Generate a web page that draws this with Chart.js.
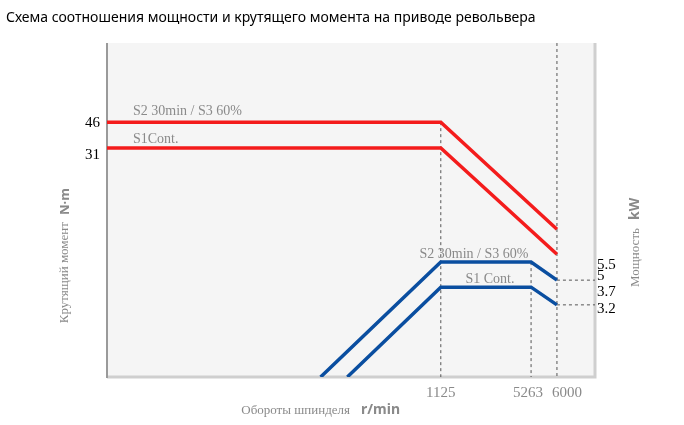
<!DOCTYPE html>
<html>
<head>
<meta charset="utf-8">
<script src="https://cdn.jsdelivr.net/npm/chart.js@4.4.0/dist/chart.umd.min.js"></script>
<style>
  html, body { margin: 0; padding: 0; background: #fff; }
  #wrap { width: 684px; height: 425px; position: relative; }
</style>
</head>
<body>
<div id="wrap"><canvas id="chart"></canvas></div>
<script>
// Data (schematic: rpm on x, torque N·m on left, power kW on right)
const TITLE = 'Схема соотношения мощности и крутящего момента на приводе револьвера';
const speedTicks = [1125, 5263, 6000];
const torqueTicks = [46, 31];
const powerTicks = [5.5, 5, 3.7, 3.2];

const torqueS2 = [{x: 0, y: 46}, {x: 1125, y: 46}, {x: 6000, y: 20}];
const torqueS1 = [{x: 0, y: 31}, {x: 1125, y: 31}, {x: 6000, y: 16.6}];
const powerS2 = [{x: 720, y: 0}, {x: 1125, y: 5.5}, {x: 5263, y: 5.5}, {x: 6000, y: 5}];
const powerS1 = [{x: 810, y: 0}, {x: 1125, y: 3.7}, {x: 5263, y: 3.7}, {x: 6000, y: 3.2}];

const RED = '#f41c1c';
const BLUE = '#0a4ea0';
const GREY_TEXT = '#8a8a8a';

/**
 * Piecewise linear scale - the reference drawing is not to scale
 */
class PiecewiseScale extends Chart.LinearScale {
    frac(v) {
        const bp = this.options.breaks;
        for (let i = 1; i < bp.length; i++) {
            if (v <= bp[i][0]) {
                const [v0, f0] = bp[i - 1], [v1, f1] = bp[i];
                return f0 + (v - v0) / (v1 - v0) * (f1 - f0);
            }
        }
        return 1;
    }
    getPixelForValue(v) {
        const f = this.frac(v);
        return this.isHorizontal()
            ? this.left + f * this.width
            : this.bottom - f * this.height;
    }
    getValueForPixel(p) {
        const f = this.isHorizontal() ? (p - this.left) / this.width : (this.bottom - p) / this.height;
        const bp = this.options.breaks;
        for (let i = 1; i < bp.length; i++) {
            if (f <= bp[i][1]) {
                const [v0, f0] = bp[i - 1], [v1, f1] = bp[i];
                return v0 + (f - f0) / (f1 - f0) * (v1 - v0);
            }
        }
        return bp[bp.length - 1][0];
    }
}
PiecewiseScale.id = 'piecewise';
PiecewiseScale.defaults = Chart.LinearScale.defaults;
Chart.register(PiecewiseScale);

const serif = '"Liberation Serif", "DejaVu Serif", serif';
const sans = '"Noto Sans", "DejaVu Sans", sans-serif';

/**
 * Background, axes, guides and all text
 */
const decor = {
    id: 'decor',
    beforeDatasetsDraw(chart) {
        const { ctx, chartArea: a, scales } = chart;
        const x = scales.x, yT = scales.yT, yP = scales.yP;
        ctx.save();
        ctx.fillStyle = '#f5f5f5';
        ctx.fillRect(a.left, a.top, a.right - a.left, a.bottom - a.top);
        ctx.strokeStyle = '#cfcfcf';
        ctx.lineWidth = 3;
        ctx.beginPath();
        ctx.moveTo(a.right, a.top); ctx.lineTo(a.right, a.bottom);
        ctx.lineTo(a.left, a.bottom);
        ctx.stroke();
        ctx.strokeStyle = '#9a9a9a';
        ctx.lineWidth = 2;
        ctx.beginPath();
        ctx.moveTo(a.left, a.top); ctx.lineTo(a.left, a.bottom + 1);
        ctx.stroke();

        // dashed guides
        ctx.setLineDash([3, 3]);
        ctx.lineWidth = 1;
        ctx.strokeStyle = '#555';
        const vx = (v, from) => {
            ctx.beginPath();
            ctx.moveTo(x.getPixelForValue(v), from);
            ctx.lineTo(x.getPixelForValue(v), a.bottom);
            ctx.stroke();
        };
        vx(1125, yT.getPixelForValue(46));
        vx(5263, yP.getPixelForValue(5.5));
        vx(6000, a.top);
        [5, 3.2].forEach(p => {
            const py = yP.getPixelForValue(p);
            ctx.beginPath();
            ctx.moveTo(x.getPixelForValue(6000), py);
            ctx.lineTo(a.right, py);
            ctx.stroke();
        });
        ctx.setLineDash([]);
        ctx.restore();
    },
    afterDraw(chart) {
        const { ctx, chartArea: a, scales } = chart;
        const x = scales.x, yT = scales.yT, yP = scales.yP;
        ctx.save();
        ctx.fillStyle = '#000';
        ctx.font = '14px ' + sans;
        ctx.textBaseline = 'middle';
        ctx.fillText(TITLE, 6, 18);

        // torque ticks
        ctx.font = '15px ' + serif;
        ctx.textAlign = 'right';
        ctx.fillText('46', 100, yT.getPixelForValue(46) + 1);
        ctx.fillText('31', 100, yT.getPixelForValue(31) + 7);
        // power ticks
        ctx.textAlign = 'left';
        const pOff = [3, -4, 5, 4];
        powerTicks.forEach((p, i) => ctx.fillText(String(p), 597, yP.getPixelForValue(p) + pOff[i]));
        // speed ticks
        ctx.fillStyle = GREY_TEXT;
        ctx.textAlign = 'center';
        const sOff = [0, -3, 10];
        speedTicks.forEach((s, i) => ctx.fillText(String(s), x.getPixelForValue(s) + sOff[i], 393));

        // curve labels
        ctx.font = '14px ' + serif;
        ctx.textAlign = 'left';
        ctx.fillText('S2 30min / S3 60%', 133, 111);
        ctx.fillText('S1Cont.', 133, 139);
        ctx.textAlign = 'center';
        ctx.fillText('S2 30min / S3 60%', 474, 254);
        ctx.fillText('S1 Cont.', 490, 279);

        // axis titles
        ctx.font = '13px ' + serif;
        ctx.textAlign = 'right';
        ctx.fillText('Обороты шпинделя', 350, 411);
        ctx.font = 'bold 14px ' + sans;
        ctx.textAlign = 'left';
        ctx.fillText('r/min', 361, 410);

        ctx.translate(65, 0);
        ctx.rotate(-Math.PI / 2);
        ctx.font = '13px ' + serif;
        ctx.textAlign = 'right';
        ctx.fillText('Крутящий момент', -222, 0);
        ctx.font = 'bold 13px ' + sans;
        ctx.textAlign = 'left';
        ctx.fillText('N·m', -215, 0);
        ctx.restore();

        ctx.save();
        ctx.fillStyle = GREY_TEXT;
        ctx.translate(639, 0);
        ctx.rotate(-Math.PI / 2);
        ctx.font = '13px ' + serif;
        ctx.textAlign = 'right';
        ctx.fillText('Мощность', -228, 0);
        ctx.font = 'bold 14px ' + sans;
        ctx.textAlign = 'left';
        ctx.fillText('kW', -220, 0);
        ctx.restore();
    }
};

const line = (data, color, axis) => ({
    data, yAxisID: axis, borderColor: color, borderWidth: 3.5,
    pointRadius: 0, tension: 0, fill: false
});

new Chart(document.getElementById('chart'), {
    type: 'line',
    data: {
        datasets: [
            line(torqueS2, RED, 'yT'),
            line(torqueS1, RED, 'yT'),
            line(powerS2, BLUE, 'yP'),
            line(powerS1, BLUE, 'yP')
        ]
    },
    options: {
        responsive: true,
        maintainAspectRatio: false,
        animation: false,
        layout: { padding: { left: 107, right: 89, top: 43, bottom: 48 } },
        plugins: { legend: { display: false }, tooltip: { enabled: false } },
        scales: {
            x: {
                type: 'piecewise', min: 0, max: 6500, display: false,
                breaks: [[0, 0], [1125, 0.684], [5263, 0.869], [6000, 0.922], [6500, 1]]
            },
            yT: {
                type: 'piecewise', position: 'left', min: 0, max: 60, display: false,
                breaks: [[0, 0], [31, 0.686], [46, 0.763], [60, 1]]
            },
            yP: {
                type: 'piecewise', position: 'right', min: 0, max: 16, display: false,
                breaks: [[0, 0], [3.2, 0.216], [3.7, 0.269], [5, 0.29], [5.5, 0.344], [16, 1]]
            }
        }
    },
    plugins: [decor]
});
</script>
</body>
</html>
